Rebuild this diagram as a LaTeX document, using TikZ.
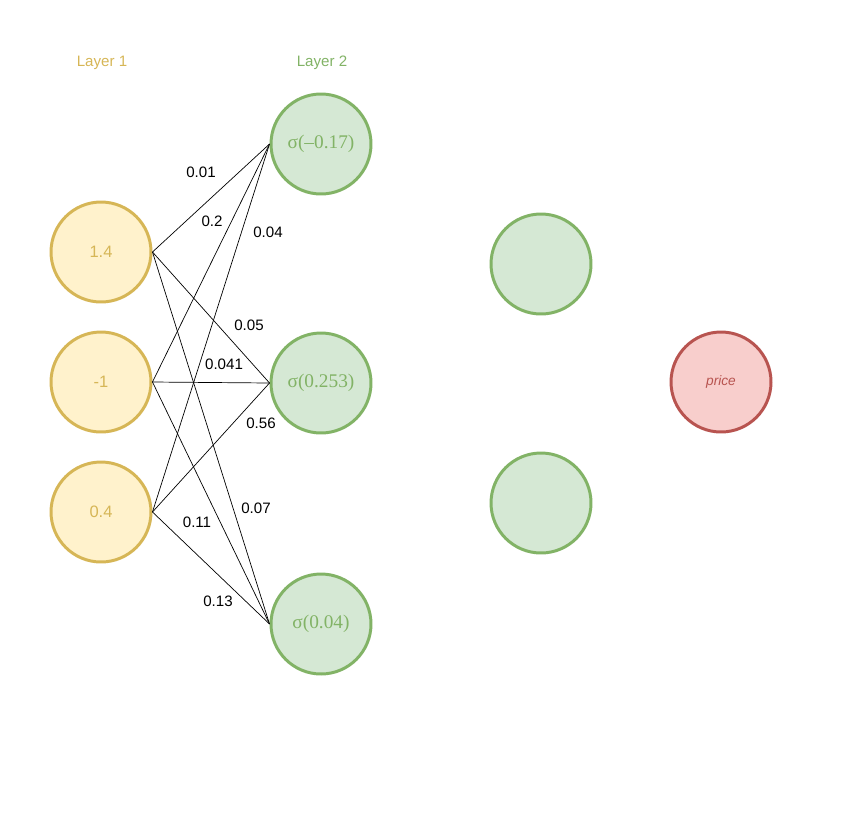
\documentclass[tikz,border=0pt]{standalone}
\usepackage{fontspec}
\setmainfont{Liberation Serif}
\setsansfont{Liberation Sans}
\usepackage{xcolor}
\usepackage{tikz}
\usetikzlibrary{shapes.geometric, positioning, calc}
\definecolor{yellowfill}{HTML}{FFF2CC}
\definecolor{yellowline}{HTML}{D6B656}
\definecolor{greenfill}{HTML}{D5E8D4}
\definecolor{greenline}{HTML}{82B366}
\definecolor{redfill}{HTML}{F8CECC}
\definecolor{redline}{HTML}{B85450}
\tikzstyle{inputneuron} = [circle, minimum size=2cm, line width=1.7pt, draw=yellowline, fill=yellowfill, text=yellowline, font=\sffamily\fontsize{9.4}{11}\selectfont]
\tikzstyle{hiddenneuron} = [circle, minimum size=2cm, line width=1.7pt, draw=greenline, fill=greenfill, text=greenline, font=\rmfamily\fontsize{11}{13}\selectfont]
\tikzstyle{outputneuron} = [circle, minimum size=2cm, line width=1.7pt, draw=redline, fill=redfill, text=redline, font=\sffamily\itshape\fontsize{7.8}{9}\selectfont]
\tikzstyle{layerlabel} = [font=\sffamily\fontsize{8.6}{10}\selectfont]
\tikzstyle{weight} = [font=\sffamily\fontsize{8.6}{10}\selectfont, inner sep=0pt]
\tikzstyle{edge} = [black, line width=0.4pt]

\begin{document}
\begin{tikzpicture}[x=0.02cm, y=-0.02cm]
    \useasboundingbox (0,0) rectangle (844,825);

    \node (lay1) [layerlabel, text=yellowline] at (102,63) {Layer 1};
    \node (lay2) [layerlabel, text=greenline] at (322,63) {Layer 2};

    \node (in1) [inputneuron] at (101,252) {1.4};
    \node (in2) [inputneuron] at (101,382) {-1};
    \node (in3) [inputneuron] at (101,512) {0.4};

    \node (hid1) [hiddenneuron] at (321,144) {σ(–0.17)};
    \node (hid2) [hiddenneuron] at (321,383) {σ(0.253)};
    \node (hid3) [hiddenneuron] at (321,624) {σ(0.04)};

    \node (sec1) [hiddenneuron] at (541,264) {};
    \node (sec2) [hiddenneuron] at (541,503) {};

    \node (out) [outputneuron] at (721,382) {price};

    % every input goes to every neuron of layer 2
    \foreach \i in {1,2,3}
        \foreach \j in {1,2,3}
            \draw [edge] (in\i.east) -- (hid\j.west);

    % weights
    \node (w1) [weight] at (201,172) {0.01};
    \node (w2) [weight] at (212,221) {0.2};
    \node (w3) [weight] at (268,232) {0.04};
    \node (w4) [weight] at (249,325) {0.05};
    \node (w5) [weight] at (224,364) {0.041};
    \node (w6) [weight] at (261,423) {0.56};
    \node (w7) [weight] at (256,508) {0.07};
    \node (w8) [weight] at (197,522) {0.11};
    \node (w9) [weight] at (218,601) {0.13};
\end{tikzpicture}
\end{document}
